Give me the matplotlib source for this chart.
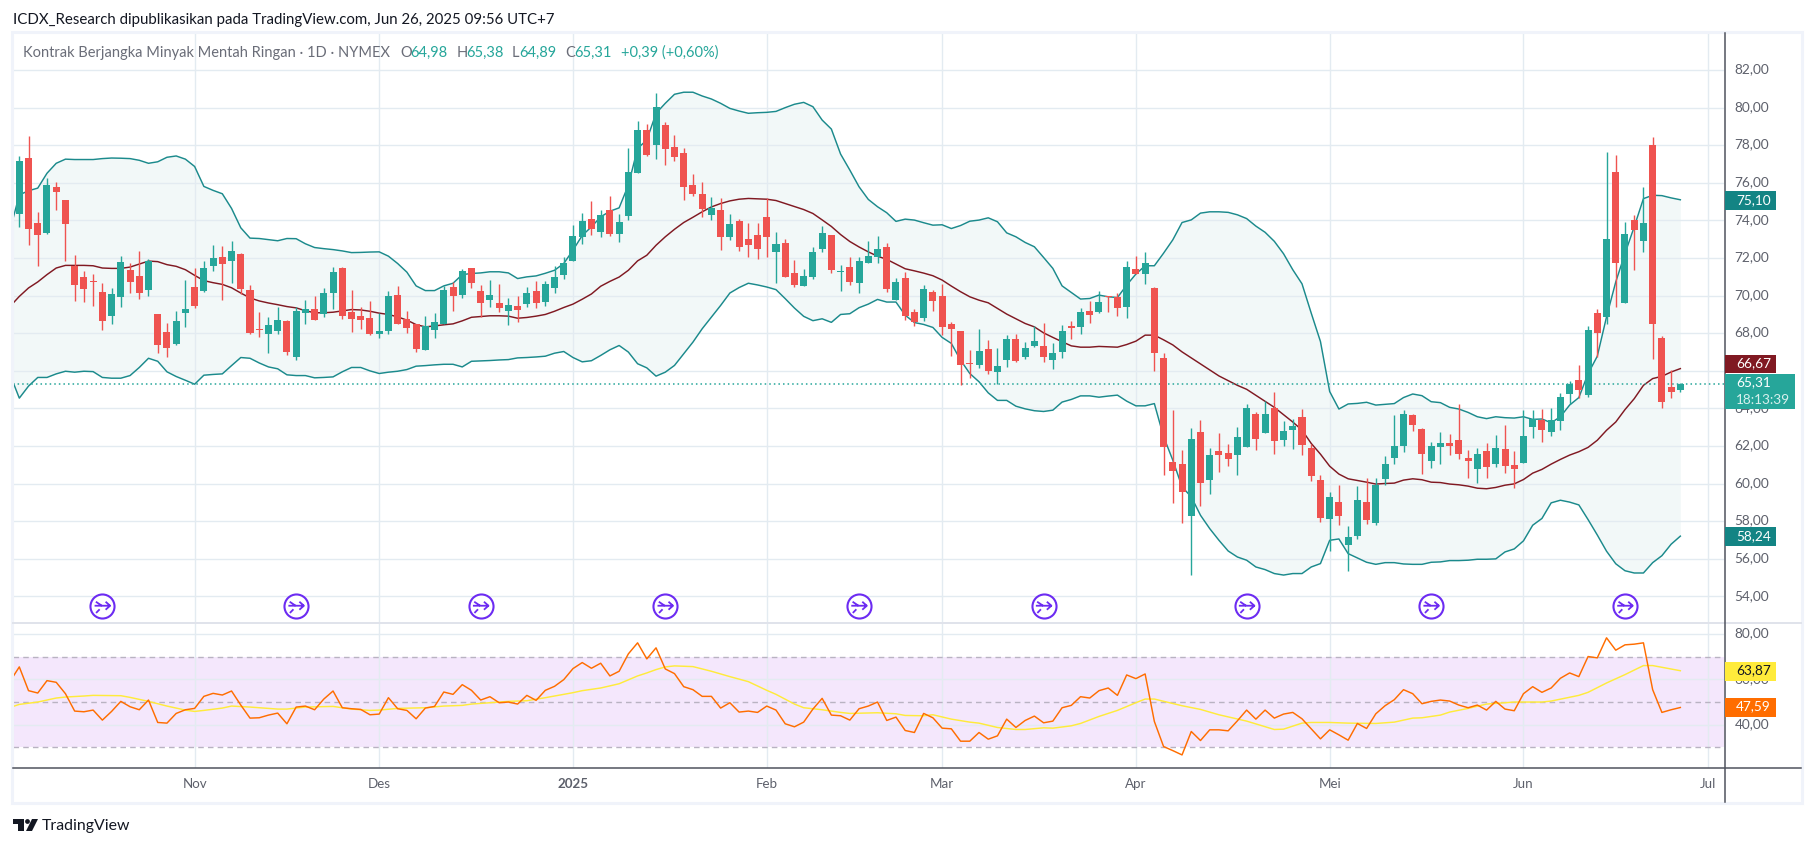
import numpy as np
import matplotlib
matplotlib.use("Agg")
import matplotlib.pyplot as plt
from matplotlib.patches import Rectangle, Polygon, Circle
from matplotlib.lines import Line2D
from matplotlib.path import Path
from matplotlib.transforms import Affine2D, ScaledTranslation

FONT = ["Lato", "DejaVu Sans"]
plt.rcParams["font.family"] = FONT

open_ = [74.35,77.33,73.88,73.35,75.79,75.10,71.59,71.01,70.75,70.21,
68.94,69.95,71.38,71.06,70.32,69.04,68.09,67.45,69.10,70.48,
70.27,71.59,72.07,71.86,72.23,70.32,68.20,67.98,68.14,68.67,
66.76,69.10,69.28,69.01,70.13,71.46,69.12,68.91,68.80,67.95,
68.11,70.02,68.75,68.48,67.10,68.16,68.48,70.45,70.02,71.46,
70.24,69.76,69.60,69.17,69.44,69.55,70.24,69.65,70.40,71.09,
71.83,73.11,74.07,73.37,74.55,73.27,74.23,76.52,78.81,78.01,
79.08,77.90,77.58,75.88,75.40,74.28,74.55,73.11,73.96,73.00,
73.21,74.17,72.31,72.79,71.19,70.50,70.98,72.47,73.21,71.27,
71.51,70.66,71.73,72.05,72.58,69.76,70.93,69.12,68.80,70.19,
69.98,68.49,68.11,66.42,66.31,67.16,65.93,66.57,67.69,66.73,
67.31,67.31,66.57,67.00,68.38,68.33,69.18,69.12,69.98,69.92,
69.39,71.41,71.15,70.42,66.69,61.15,61.04,58.27,62.75,60.19,
61.73,61.63,61.52,61.95,63.71,62.69,64.02,62.32,62.85,63.55,
61.89,60.19,58.11,59.02,56.72,57.20,59.02,57.90,60.24,61.36,
62.00,63.65,62.91,61.20,61.95,62.16,62.32,61.36,60.77,61.73,
61.04,61.84,60.99,61.09,63.01,63.39,62.75,63.33,64.77,65.52,
64.72,69.06,68.85,76.56,69.60,74.01,72.89,78.00,67.73,65.13,64.98]

close = [77.17,73.56,73.24,75.89,75.52,73.82,70.58,70.37,70.70,68.67,
70.11,71.81,70.74,70.16,71.86,67.40,67.19,68.67,69.31,69.47,
71.49,72.02,71.70,72.39,70.37,68.04,68.15,68.46,68.73,67.03,
69.20,69.31,68.70,70.13,71.25,68.91,68.75,68.70,67.95,68.11,
69.97,68.48,68.27,67.15,68.38,68.59,70.29,69.97,71.30,70.66,
69.60,70.02,69.33,69.49,69.23,70.13,69.60,70.61,70.98,71.73,
73.16,73.96,73.53,74.28,73.27,73.91,76.57,78.81,77.48,80.04,
77.80,77.37,75.77,75.40,74.60,74.65,73.11,73.80,72.58,72.68,
72.47,73.11,72.74,70.98,70.55,71.03,72.31,73.32,71.35,71.30,
70.71,71.83,72.10,72.48,70.35,70.72,68.91,68.59,70.35,69.71,
68.33,68.22,66.31,66.36,67.05,65.99,66.25,67.69,66.52,67.21,
67.58,66.73,66.94,68.11,68.30,69.12,68.96,69.66,69.93,69.34,
71.52,71.15,71.73,66.96,61.95,60.67,59.55,62.37,60.03,61.52,
61.52,61.31,62.48,64.02,62.37,63.71,62.27,62.80,63.07,62.05,
60.40,58.16,59.28,58.27,57.15,59.12,58.06,59.92,61.04,62.00,
63.71,63.12,61.57,62.00,62.16,62.00,61.57,61.20,61.57,60.88,
61.89,60.93,60.77,62.53,63.44,62.85,63.39,64.61,65.30,64.98,
68.18,68.00,73.00,71.72,73.27,73.48,73.85,68.48,64.33,64.86,65.31]

high = [77.43,78.50,74.46,76.27,76.05,75.10,72.18,71.33,71.17,70.69,
70.42,72.12,71.75,72.39,71.96,69.04,68.57,69.20,70.85,71.49,
71.86,72.71,72.65,72.92,72.28,70.58,69.15,68.88,69.42,68.73,
69.42,69.79,69.97,70.40,71.51,71.51,70.29,69.39,69.71,69.07,
70.24,70.50,69.17,68.48,68.91,69.07,70.50,70.72,71.41,71.46,
70.56,70.82,70.61,69.87,69.97,70.45,70.77,70.77,71.57,72.05,
73.75,74.39,75.03,74.55,75.29,74.33,77.85,79.29,79.13,80.78,
79.24,78.54,77.85,76.47,76.04,75.24,75.19,74.33,74.07,73.85,
73.85,75.19,73.37,73.00,71.88,71.40,72.58,73.69,73.21,71.62,
72.04,72.04,72.90,73.17,72.79,70.93,71.25,69.28,70.56,70.29,
70.61,68.59,68.11,67.10,68.22,67.63,67.21,67.90,67.95,67.53,
68.38,68.54,67.48,68.43,68.65,69.34,69.71,70.24,70.00,70.13,
71.84,72.10,72.32,70.47,66.96,63.92,61.79,62.96,63.39,61.89,
62.69,62.11,63.01,64.24,63.81,64.40,64.88,63.33,63.44,63.97,
62.11,60.45,59.55,59.92,57.74,59.87,60.30,60.30,61.47,63.65,
63.92,63.71,62.96,62.21,62.75,62.64,64.24,61.79,61.89,62.16,
62.59,63.12,61.73,63.92,63.92,63.97,64.02,64.82,65.46,66.32,
68.39,69.28,77.63,77.47,73.90,74.28,75.77,78.43,67.84,66.03,65.38]

low = [73.66,72.71,71.59,73.29,74.57,71.86,69.73,69.68,69.47,68.19,
68.51,69.42,70.16,69.84,70.00,66.97,66.76,67.35,68.35,69.36,
70.20,71.33,69.79,70.69,70.11,67.98,67.82,66.97,67.98,66.87,
66.60,68.51,68.70,68.85,69.28,68.75,68.06,68.22,67.90,67.74,
67.95,68.48,68.00,66.99,67.10,67.74,68.48,69.17,69.87,70.40,
68.85,69.39,69.12,68.43,68.59,69.39,69.33,69.44,70.13,70.88,
71.83,72.74,73.21,73.11,73.16,72.84,74.01,76.52,77.42,77.26,
76.94,77.16,75.08,75.29,74.17,74.01,72.42,72.95,72.36,72.04,
71.94,72.04,70.66,70.98,70.44,70.50,70.87,72.31,71.19,70.23,
70.55,70.12,71.73,71.73,70.19,69.76,68.70,68.38,68.65,69.18,
67.90,66.78,65.24,65.61,66.15,65.83,65.29,66.20,66.46,66.62,
67.26,66.46,66.09,66.68,67.69,67.95,68.54,69.07,69.12,68.91,
68.80,71.15,70.61,66.00,60.45,58.96,57.90,55.13,58.80,59.44,
60.61,60.93,60.45,61.95,61.79,62.69,61.57,62.00,61.84,61.52,
60.13,57.95,56.40,57.79,55.34,57.04,57.84,57.79,59.92,61.04,
61.68,62.80,60.51,60.83,61.04,61.52,61.31,60.30,60.03,60.30,
60.88,60.56,59.76,61.09,62.43,62.21,62.53,62.85,64.24,64.56,
64.61,66.72,68.48,69.38,69.60,71.35,72.31,66.62,64.01,64.54,64.89]

# Bollinger series start one bar before the first candle (clipped at the pane edge)
bb_upper = [73.50,
75.36,75.58,75.72,76.51,77.04,77.26,77.24,77.24,77.24,77.29,
77.32,77.31,77.29,77.20,77.04,77.12,77.36,77.43,77.26,76.87,
75.81,75.60,75.42,74.64,73.61,73.06,73.04,72.98,72.92,73.04,
73.03,72.76,72.56,72.50,72.45,72.38,72.29,72.30,72.32,72.33,
72.10,71.71,71.25,70.52,70.27,70.27,70.52,70.66,71.12,71.18,
71.21,71.27,71.27,71.21,70.91,71.00,71.05,71.19,71.35,71.71,
72.42,73.20,73.66,74.19,74.49,74.67,75.88,77.83,78.28,79.70,
80.23,80.71,80.82,80.82,80.62,80.46,80.23,79.96,79.82,79.70,
79.73,79.75,79.80,80.00,80.18,80.28,80.05,79.34,78.86,77.53,
76.68,75.79,75.12,74.73,74.41,73.95,74.07,74.02,73.88,73.75,
73.77,73.57,73.73,73.96,74.02,74.14,73.93,73.34,73.13,72.83,
72.60,72.03,71.45,70.52,70.17,69.82,69.85,70.03,69.94,69.90,
70.56,71.15,71.59,71.59,72.26,72.97,73.89,74.03,74.39,74.46,
74.46,74.43,74.30,74.10,73.70,73.37,72.89,72.23,71.38,70.63,
69.07,67.56,64.90,63.97,64.24,64.27,64.33,64.18,64.22,64.26,
64.58,64.77,64.68,64.36,64.31,64.06,63.97,63.79,63.56,63.46,
63.56,63.51,63.49,63.56,63.42,63.44,63.24,63.56,64.18,64.58,
65.85,66.78,68.87,70.73,72.24,73.66,75.16,75.34,75.32,75.20,75.10]

bb_lower = [65.80,
64.55,65.19,65.65,65.65,65.84,65.98,65.93,65.98,65.96,65.65,
65.61,65.61,65.75,66.18,66.67,66.51,65.95,65.70,65.50,65.29,
65.77,65.81,65.84,66.28,66.71,66.67,66.42,66.21,66.11,65.79,
65.75,65.75,65.63,65.65,65.68,65.95,66.18,66.18,66.00,65.86,
65.93,65.98,66.07,66.25,66.28,66.32,66.35,66.35,66.21,66.51,
66.53,66.55,66.58,66.60,66.69,66.71,66.74,66.78,66.94,67.03,
66.71,66.48,66.54,66.82,67.12,67.35,67.00,66.38,66.16,65.72,
65.93,66.29,66.91,67.53,68.24,68.86,69.48,70.14,70.43,70.66,
70.57,70.46,70.32,69.84,69.34,68.90,68.67,68.77,68.58,69.00,
69.04,69.36,69.55,69.80,69.66,69.66,68.96,68.57,68.47,68.31,
67.78,67.46,66.57,65.86,65.42,64.83,64.43,64.43,64.12,63.98,
63.88,63.84,63.91,64.34,64.48,64.67,64.67,64.60,64.66,64.71,
64.39,64.14,64.14,64.26,62.50,61.25,59.83,59.30,58.32,57.61,
56.99,56.42,56.10,55.93,55.57,55.43,55.22,55.14,55.22,55.22,
55.57,55.75,56.99,57.06,56.28,56.05,55.82,55.71,55.80,55.80,
55.73,55.71,55.71,55.82,55.84,55.91,55.91,55.93,55.98,55.98,
56.00,56.37,56.53,56.96,57.79,58.15,58.98,59.12,59.02,58.87,
58.09,57.27,56.41,55.74,55.37,55.25,55.25,55.80,56.17,56.78,57.21]

bb_basis = [69.43,
69.96,70.41,70.73,71.12,71.47,71.61,71.61,71.61,71.59,71.47,
71.45,71.45,71.52,71.68,71.84,71.81,71.65,71.56,71.38,71.08,
70.80,70.69,70.60,70.42,70.14,69.88,69.72,69.61,69.52,69.42,
69.35,69.20,69.09,69.09,69.12,69.19,69.26,69.24,69.17,69.07,
69.00,68.87,68.70,68.46,68.34,68.39,68.45,68.50,68.66,68.85,
68.89,68.93,68.93,68.91,68.80,68.84,68.91,69.00,69.17,69.37,
69.55,69.81,70.09,70.50,70.76,70.99,71.35,71.85,72.15,72.68,
73.13,73.53,73.89,74.17,74.46,74.72,74.90,75.04,75.13,75.17,
75.15,75.13,75.06,74.90,74.74,74.58,74.37,74.03,73.68,73.25,
72.88,72.59,72.33,72.10,71.93,71.68,71.43,71.32,71.20,71.06,
70.83,70.51,70.21,69.94,69.76,69.62,69.32,69.02,68.77,68.52,
68.34,68.02,67.78,67.55,67.33,67.26,67.26,67.30,67.28,67.26,
67.40,67.58,67.90,67.90,67.65,67.38,67.01,66.69,66.37,66.05,
65.73,65.48,65.23,65.02,64.70,64.38,64.06,63.67,63.28,62.85,
62.14,61.57,60.93,60.51,60.26,60.17,60.08,59.98,60.01,60.03,
60.19,60.26,60.21,60.08,60.06,59.98,59.94,59.87,59.76,59.73,
59.80,59.92,59.99,60.22,60.56,60.76,61.04,61.29,61.52,61.70,
61.93,62.31,62.84,63.28,63.94,64.52,65.23,65.59,65.71,65.94,66.12]

rsi = [59.20,
65.56,55.04,54.00,59.48,58.74,53.70,46.00,45.70,46.44,42.00,
45.85,50.30,47.93,46.59,50.89,40.96,40.67,44.96,46.59,47.19,
52.52,53.85,53.11,54.89,48.67,42.89,43.04,44.22,45.11,40.37,
47.78,48.22,46.59,51.33,54.89,47.48,47.04,46.74,44.37,44.67,
51.93,47.04,46.30,42.59,47.33,48.07,54.44,53.41,57.70,55.19,
50.89,52.37,49.70,50.00,49.11,52.96,50.74,55.19,56.96,59.93,
64.81,67.48,64.96,67.19,61.56,63.63,71.33,76.22,69.11,74.00,
64.67,62.59,56.81,55.48,52.52,52.52,47.33,49.70,45.56,46.00,
45.41,48.22,46.44,40.37,39.04,41.11,46.89,51.63,44.22,43.93,
42.00,47.04,48.22,50.00,41.85,43.33,37.41,36.52,44.96,43.04,
38.44,38.15,32.67,32.67,36.52,33.56,35.04,42.44,38.74,41.85,
43.78,40.81,41.56,47.48,48.52,52.37,51.78,55.04,56.22,52.96,
62.00,60.37,62.44,41.41,30.30,28.50,26.59,36.96,32.96,37.70,
37.70,37.26,41.70,46.44,42.44,46.44,42.89,44.67,45.41,42.59,
38.15,33.70,37.70,35.48,33.11,40.52,38.30,44.81,48.37,51.04,
55.48,53.70,49.26,50.30,50.89,50.44,48.67,47.48,48.67,46.44,
50.30,46.89,46.15,53.70,56.81,54.30,56.22,60.52,62.89,61.26,
70.15,69.56,78.44,72.96,75.33,75.63,76.22,55.48,45.41,46.59,47.59]

# RSI moving average, read at the bars where its slope changes
rsi_ma_bars = [-1,0,2,4,5,7,8,11,12,14,16,18,19,20,22,23,25,28,29,31,34,36,38,39,41,44,46,48,49,51,53,55,57,60,61,63,65,
67,68,69,70,71,73,75,77,79,81,82,84,85,87,89,90,93,95,96,98,99,101,103,104,106,108,109,111,112,114,115,117,119,121,122,123,126,128,130,
133,136,137,139,140,142,144,147,149,151,152,154,155,157,159,162,165,166,169,170,172,174,176,177,180]
rsi_ma = [47.63,48.96,50.00,51.78,52.22,52.67,52.96,52.81,52.07,50.30,48.22,46.44,45.85,46.30,47.33,48.22,47.78,46.89,46.89,47.78,48.07,46.89,46.30,46.44,47.19,47.48,48.22,48.52,49.11,49.70,50.30,50.59,51.93,54.15,55.04,56.22,58.10,
61.56,62.89,64.37,65.56,66.00,65.70,63.63,61.26,59.04,55.19,53.41,49.11,47.48,46.59,45.41,44.96,45.26,44.81,44.07,43.93,44.37,42.44,41.11,40.67,38.74,37.85,37.85,38.59,38.44,39.48,40.52,43.63,46.30,49.70,51.33,51.33,48.37,46.74,44.37,
41.56,37.85,38.00,40.67,40.96,40.96,40.67,40.52,41.11,42.89,43.04,44.22,45.56,47.19,49.11,50.00,50.00,50.44,52.96,54.30,58.44,62.15,66.15,66.15,63.87]

price_ticks = [54,56,58,60,62,64,66,68,70,72,74,76,78,80,82]
price_hidden_tick = 66   # covered by the value tags in the original
rsi_ticks = [80,60,40]
month_bars = [19,39,60,81,100,121,142,163,183]
month_labels = ["Nov","Des","2025","Feb","Mar","Apr","Mei","Jun","Jul"]
split_icon_bars = [9,30,50,70,91,111,133,153,174]
last_close = 65.31

W, H = 1814, 847
GREEN, RED = "#26a69a", "#ef5350"
BAND, BASIS = "#1b8a8c", "#801922"
GRID = "#e3ebf1"
TXT = "#5d606b"
comma = lambda v: f"{v:.2f}".replace(".", ",")

fig = plt.figure(figsize=(W/100, H/100), dpi=100, facecolor="white")
px = Affine2D().scale(1/W, -1/H).translate(0, 1) + fig.transFigure

def axes_px(x0, y0, x1, y1):
    return fig.add_axes([x0/W, 1-y1/H, (x1-x0)/W, (y1-y0)/H])

ax = axes_px(13, 33, 1724, 623)
ar = axes_px(13, 623, 1724, 768)
XLIM = (-0.683, 184.73)
ax.set_xlim(*XLIM); ax.set_ylim(52.59, 83.97)
ar.set_xlim(*XLIM); ar.set_ylim(20.8, 85.0)

for a in (ax, ar):
    a.set_axisbelow("line")
    for s in a.spines.values():
        s.set_visible(False)
    a.set_xticks(month_bars)
    a.grid(True, color=GRID, lw=1.0)
    a.yaxis.tick_right()
    a.tick_params(axis="both", length=0, labelsize=9.8, labelcolor=TXT, pad=7.5)

ax.set_yticks(price_ticks, ["" if v == price_hidden_tick else comma(v) for v in price_ticks])
ax.tick_params(axis="x", labelbottom=False)
ar.set_yticks(rsi_ticks, [comma(v) for v in rsi_ticks])
ar.set_xticks(month_bars, month_labels)
nudge = ScaledTranslation(0, 1.2/72, fig.dpi_scale_trans)
for a in (ax, ar):
    for lab in a.get_yticklabels():
        lab.set_va("center_baseline")
        lab.set_transform(lab.get_transform() + nudge)
for lab in ar.get_xticklabels():
    lab.set_fontsize(9.6)
    if lab.get_text() == "2025":
        lab.set_fontweight("bold")
ar.tick_params(axis="x", pad=7.5)

# Bollinger bands
n = len(close)
bars = np.arange(n)
bb_x = np.arange(-1, n)
ax.fill_between(bb_x, bb_lower, bb_upper, color="#138484", alpha=0.05, lw=0, zorder=1)
ax.plot(bb_x, bb_upper, color=BAND, lw=1.05, zorder=2)
ax.plot(bb_x, bb_lower, color=BAND, lw=1.05, zorder=2)
ax.plot(bb_x, bb_basis, color=BASIS, lw=1.05, zorder=2)

# Last-price line
ax.axhline(last_close, color=GREEN, lw=1.1, ls=(0, (1, 2)), zorder=2.2)

# Candles
o, c, hi, lo = map(np.array, (open_, close, high, low))
cols = np.where(c >= o, GREEN, RED)
ax.vlines(bars, lo, hi, colors=cols, lw=1.0, zorder=3)
body = np.maximum(np.abs(c-o), 0.06)
ax.bar(bars, body, bottom=np.minimum(o, c), width=0.76, color=cols, lw=0, zorder=3.1)

# Split markers
PURPLE = "#6c2bf2"
icon_y = [53.48]*len(split_icon_bars)
ax.scatter(split_icon_bars, icon_y, s=300, facecolors="white", edgecolors=PURPLE, linewidths=1.5, zorder=5)
glyph = Path(
    [(-0.60,0.42),(-0.05,0.05),(-0.72,0.05),(0.72,0.05),(0.30,0.42),(0.72,0.05),(0.30,-0.32),(-0.58,-0.62),(-0.25,-0.28)],
    [Path.MOVETO,Path.LINETO,Path.MOVETO,Path.LINETO,Path.MOVETO,Path.LINETO,Path.LINETO,Path.MOVETO,Path.LINETO])
ax.scatter(split_icon_bars, icon_y, s=125, marker=glyph, facecolors="none", edgecolors=PURPLE, linewidths=1.3, zorder=6)

# RSI pane
ar.axhspan(30, 70, color="#f4e7fc", lw=0, zorder=1)
for lv in (70, 50, 30):
    ar.axhline(lv, color="#b9b3c2", lw=1.0, ls=(0, (4, 3)), zorder=1.8)
ar.plot(bb_x, rsi, color="#ff6d00", lw=1.05, zorder=3)
ar.plot(rsi_ma_bars, rsi_ma, color="#ffeb3b", lw=1.05, zorder=2.5)

# Frame, pane separators
fig.add_artist(Rectangle((12, 32), 1790, 771, transform=px, fill=False, ec="#f0f3fa", lw=2.2))
fig.add_artist(Line2D([13, 1801], [623, 623], transform=px, color="#e0e3eb", lw=1.4))
fig.add_artist(Line2D([13, 1801], [768, 768], transform=px, color="#50535e", lw=1.1))
fig.add_artist(Line2D([1724.5, 1724.5], [33, 802], transform=px, color="#50535e", lw=1.1))

# Value labels on the scale
def tag(y0, y1, color, x1=1776):
    fig.add_artist(Rectangle((1725, y0), x1-1725, y1-y0, transform=px, fc=color, ec="none", zorder=8))
def tag_text(y, s, color="white", size=9.8, weight="normal"):
    fig.text(1736/W, 1-y/H, s, color=color, fontsize=size, va="center", ha="left", fontweight=weight, zorder=9)

tag(191, 210, "#138484"); tag_text(200, comma(75.10))
tag(355, 373, BASIS);     tag_text(363.5, comma(66.67))
tag(374, 409, GREEN, x1=1795); tag_text(382.5, comma(65.31)); tag_text(399.5, "18:13:39", color="#d8f0ed")
tag(527, 546, "#138484"); tag_text(536.5, comma(58.24))
tag(662, 681, "#ffeb3b", x1=1776); tag_text(670.5, comma(63.87), color="#131722")
tag(698, 717, "#ff6d00", x1=1776); tag_text(706.5, comma(47.59))

# Header, legend
fig.text(13/W, 1-20/H, "ICDX_Research dipublikasikan pada TradingView.com, Jun 26, 2025 09:56 UTC+7",
         fontsize=10.78, color="#131722", va="center")
LEG = "#6a6d78"
def leg(x, s, col):
    fig.text(x/W, 1-53/H, s, fontsize=10.5, color=col, va="center", zorder=9)
leg(23, "Kontrak Berjangka Minyak Mentah Ringan · 1D · NYMEX", LEG)
for x, s in [(400,"O"),(456.7,"H"),(512,"L"),(565,"C")]:
    leg(x, s, LEG)
for x, s in [(410,"64,98"),(466,"65,38"),(519,"64,89"),(574,"65,31"),(621,"+0,39 (+0,60%)")]:
    leg(x, s, GREEN)

# TradingView mark
blk = "#131722"
fig.add_artist(Polygon([(13,819),(24,819),(24,831),(18,831),(18,824),(13,824)], closed=True, transform=px, fc=blk, ec="none"))
fig.add_artist(Circle((27.5,821.5), 2.4, transform=px, fc=blk, ec="none"))
fig.add_artist(Polygon([(32,819),(38,819),(32,831),(26,831)], closed=True, transform=px, fc=blk, ec="none"))
fig.text(42/W, 1-826/H, "TradingView", fontsize=11.4, color=blk, va="center")

fig.savefig("out.png", dpi=100, facecolor="white")
